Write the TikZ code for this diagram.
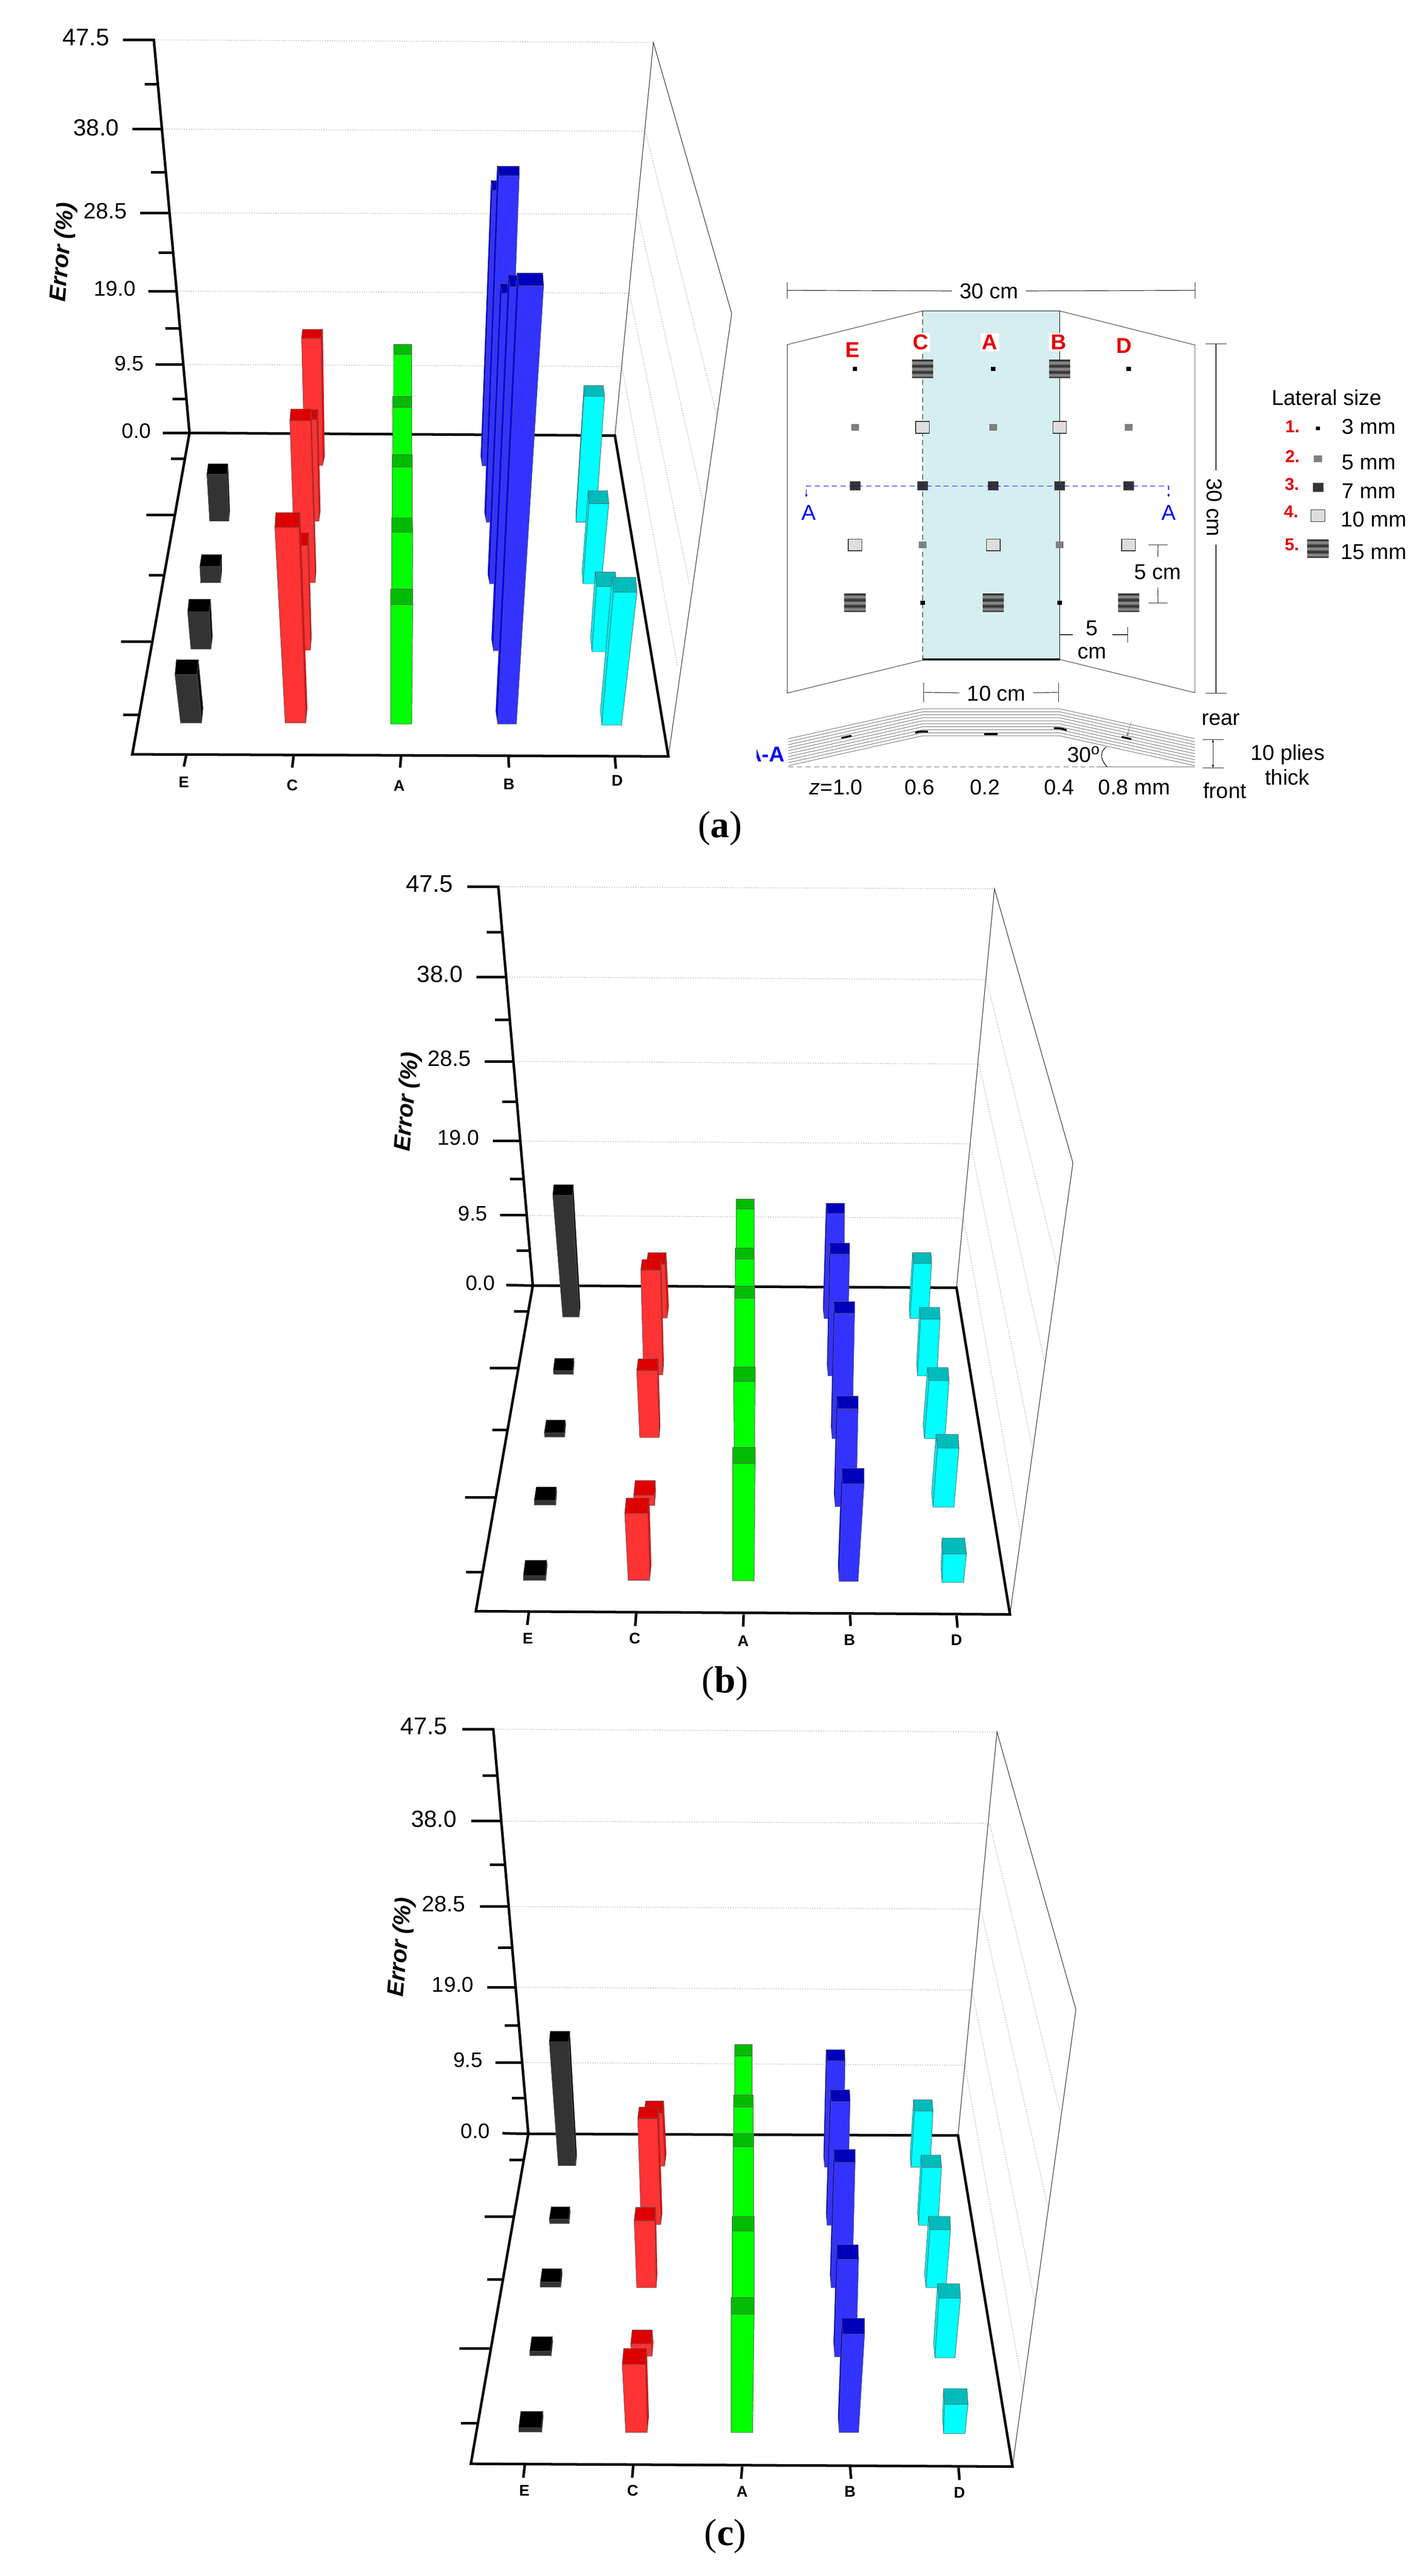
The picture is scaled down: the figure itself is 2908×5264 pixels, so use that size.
\documentclass[tikz,border=0pt]{standalone}
\usepackage{fontspec}
\usetikzlibrary{arrows.meta}
\setmainfont{Liberation Sans}
\newfontfamily\capfont{Liberation Serif}

\definecolor{redF}{HTML}{FF3333}
\definecolor{redT}{HTML}{DD0000}
\definecolor{redS}{HTML}{FF0000}
\definecolor{greenF}{HTML}{00FF00}
\definecolor{greenT}{HTML}{00BB00}
\definecolor{greenS}{HTML}{00DD00}
\definecolor{blueF}{HTML}{3333FF}
\definecolor{blueT}{HTML}{0000BB}
\definecolor{blueS}{HTML}{0000FF}
\definecolor{cyanF}{HTML}{00FFFF}
\definecolor{cyanT}{HTML}{00BBBB}
\definecolor{cyanS}{HTML}{00E8E8}
\definecolor{blackF}{HTML}{333333}
\definecolor{blackT}{HTML}{000000}
\definecolor{blackS}{HTML}{111111}
\definecolor{midpanel}{HTML}{D5EEF0}

\pgfdeclareverticalshading{plystripes}{100bp}{color(0bp)=(black!85); color(25bp)=(black!85); color(33bp)=(gray!80); color(41bp)=(black!85); color(50bp)=(gray!80); color(58bp)=(black!85); color(67bp)=(gray!80); color(75bp)=(black!85); color(100bp)=(black!85)}

\tikzset{
  axisline/.style={line width=1.5pt,black},
  thinbox/.style={line width=.35pt,black!80},
  wingline/.style={line width=.35pt,black!70},
  gridline/.style={line width=.4pt,densely dotted,black!40},
  barface/.style={draw=black!65,line width=.2pt},
  ticklab/.style={inner sep=0pt},
  axislab/.style={inner sep=0pt,font=\fontsize{9}{9}\selectfont\bfseries},
  errlab/.style={inner sep=0pt,rotate=85,font=\fontsize{13.5}{14}\selectfont\bfseries\itshape},
  caplab/.style={inner sep=0pt,font=\fontsize{22}{24}\selectfont\capfont},
  txt/.style={inner sep=0pt,font=\fontsize{12.5}{13.5}\selectfont},
  dimlab/.style={txt,inner sep=.15cm},
  dimline/.style={line width=.35pt,black!85},
  tinytip/.style={{Latex[length=1.6pt,width=1.6pt]}-{Latex[length=1.6pt,width=1.6pt]}},
  rowlab/.style={inner sep=1pt,fill=white,text=red!90!black,font=\fontsize{12.5}{13}\selectfont\bfseries},
  numlab/.style={inner sep=0pt,text=red!90!black,font=\fontsize{10}{11}\selectfont\bfseries},
  m3/.style={inner sep=0pt,minimum width=.09cm,minimum height=.08cm,fill=black},
  m5/.style={inner sep=0pt,minimum width=.16cm,minimum height=.14cm,fill=black!50},
  m7/.style={inner sep=0pt,minimum width=.21cm,minimum height=.18cm,fill=black!80,draw=black!60,line width=.2pt},
  m10/.style={inner sep=0pt,minimum width=.28cm,minimum height=.24cm,fill=black!13,draw=black!80,line width=.4pt},
  m15/.style={inner sep=0pt,minimum width=.43cm,minimum height=.37cm,shading=plystripes}
}

\newcommand{\barset}[2]{%
  \foreach \xa/\xb/\ya/\xc/\xd/\yb/\xe/\xf/\yc in {#2} {
    \pgfmathsetmacro{\xl}{\xa+\xe-\xc}
    \pgfmathsetmacro{\xr}{\xb+\xf-\xd}
    \pgfmathsetmacro{\yl}{\ya+\yc-\yb}
    \filldraw[barface,fill=#1S] (\xa,\ya) -- (\xc,\yb) -- (\xe,\yc) -- (\xl,\yl) -- cycle;
    \filldraw[barface,fill=#1S] (\xb,\ya) -- (\xd,\yb) -- (\xf,\yc) -- (\xr,\yl) -- cycle;
    \filldraw[barface,fill=#1F] (\xa,\ya) -- (\xb,\ya) -- (\xd,\yb) -- (\xc,\yb) -- cycle;
    \filldraw[barface,fill=#1T] (\xc,\yb) -- (\xd,\yb) -- (\xf,\yc) -- (\xe,\yc) -- cycle;
  }}

\begin{document}
\begin{tikzpicture}[x=.01cm,y=-.01cm]
  \useasboundingbox (0,0) rectangle (2908,5264);

  % plot a
  \begin{scope}[x=.009588cm,y=-.010846cm]
    \draw[gridline] (328,75) -- (1393,80);
    \foreach \a/\b/\c/\d/\e/\f in {346/243/1376/247/1527/778,362/401/1360/403/1500/950,376/548/1342/552/1470/1100,390/686/1326/690/1445/1255}
      \draw[gridline] (\a,\b) -- (\c,\d) -- (\e,\f);
    \draw[thinbox] (1311,820) -- (1393,80) -- (1560,590) -- (1425,1424);
    \draw[axisline] (262,75) -- (328,75) -- (404,815) -- (282,1420) -- (1425,1424) -- (1311,820) -- (404,815) -- (347,815);
    \foreach \a/\b/\c/\d in {282/243/346/243,299/401/362/401,316/548/376/548,332/686/390/686,308/159/336/159,322/324/354/324,338/476/368/476,352/618/382/618,368/751/395/751,364/864/393/864,312/969/372/969,317/1083/347/1083,258/1208/322/1208,262/1346/294/1346,397/1422/392/1443,626/1422/623/1445,855/1424/853/1445,1084/1424/1085/1445,1311/1426/1313/1447}
      \draw[axisline] (\a,\b) -- (\c,\d);
    \foreach \t/\x/\y/\s [count=\i] in {47.5/183/70/14,38.0/205/240/13.6,28.5/225/397/12.9,19.0/245/543/12.4,9.5/275/684/12.2,0.0/291/811/12.2}
      \node[ticklab,font=\fontsize{\s}{\s}\selectfont] (atick\i) at (\x,\y) {\t};
    \foreach \t/\x/\y in {E/392/1472,C/623/1478,A/851/1479,B/1085/1476,D/1316/1470}
      \node[axislab] (axlab\t) at (\x,\y) {\t};
    \node[errlab] (aerr) at (135,475) {Error (\%)};
    \barset{black}{447/488/981/441/484/893/444/486/873,428/470/1097/426/470/1066/430/473/1044,407/450/1222/400/446/1152/403/449/1128,385/430/1361/373/420/1270/376/423/1242}
    \barset{red}{650/688/876/643/684/637/645/688/620,640/680/981/635/675/790/637/678/771,630/672/1097/618/662/792/620/664/770,620/662/1224/610/656/1027/612/658/1003,608/652/1361/586/637/993/588/640/965}
    \barset{green}{839/877/876/839/878/667/839/878/648,838/878/981/837/878/767/837/878/746,836/879/1097/836/879/879/836/879/856,835/879/1224/835/880/1002/835/879/975,833/878/1363/833/880/1138/833/880/1109}
    \barset{blue}{1028/1070/877/1050/1090/358/1047/1090/340,1037/1080/983/1064/1107/331/1060/1107/313,1044/1085/1099/1070/1112/552/1066/1112/534,1052/1095/1225/1087/1130/540/1083/1130/518,1061/1101/1363/1106/1159/538/1102/1157/514}
    \barset{cyan}{1228/1270/983/1245/1289/746/1245/1286/726,1243/1282/1099/1256/1298/948/1254/1295/924,1262/1300/1227/1272/1314/1104/1269/1312/1077,1283/1325/1365/1308/1358/1115/1305/1355/1087}
  \end{scope}
  \node[caplab] (capa) at (1472,1693) {(\textbf{a})};

  % layout of the panel
  \begin{scope}[shift={(1500,500)},x=.008977cm,y=-.007651cm]
    \fill[midpanel] (430,177) rectangle (742,1108);
    \draw[wingline] (430,177) -- (122,267) -- (122,1198) -- (430,1110);
    \draw[wingline] (742,177) -- (1050,268) -- (1050,1197) -- (742,1108);
    \draw[line width=.5pt] (430,177) -- (742,177);
    \draw[line width=1pt] (430,1108) -- (742,1108);
    \draw[line width=.5pt,densely dashed] (430,177) -- (430,1108);
    \draw[line width=.5pt] (742,177) -- (742,1108);

    \foreach \x/\y/\t in {271/281/E,426/261/C,583/261/A,740/261/B,889/270/D}
      \node[rowlab] (col\t) at (\x,\y) {\t};

    \foreach \y [count=\r] in {332,488,644,802,957}
      \foreach \x [count=\c] in {276,430,591,742,899}
        \coordinate (pos\r\c) at (\x,\y);
    \foreach \n/\m in {11/m3,12/m15,13/m3,14/m15,15/m3,21/m5,22/m10,23/m5,24/m10,25/m5,31/m7,32/m7,33/m7,34/m7,35/m7,41/m10,42/m5,43/m10,44/m5,45/m10,51/m15,52/m3,53/m15,54/m3,55/m15}
      \node[\m] (mark\n) at (pos\n) {};

    % section line
    \coordinate (secL) at (165,645);
    \coordinate (secR) at (990,645);
    \coordinate (secLe) at (165,675);
    \coordinate (secRe) at (990,675);
    \draw[blue,line width=.4pt,densely dashed,tinytip] (secLe) -- (secL) -- (secR) -- (secRe);
    \node[txt,text=blue] (secLlab) at (171,716) {A};
    \node[txt,text=blue] (secRlab) at (990,716) {A};

    % dimensions
    \node[dimlab] (w30) at (581,124) {30 cm};
    \coordinate (w30L) at (122,122);
    \coordinate (w30R) at (1050,122);
    \draw[dimline] (w30L) -- (w30) -- (w30R);
    \draw[dimline] (122,100) -- (w30L) -- (122,145);
    \draw[dimline] (1050,100) -- (w30R) -- (1050,145);
    \node[dimlab,rotate=-90] (h30) at (1094,702) {30 cm};
    \coordinate (h30T) at (1098,265);
    \coordinate (h30B) at (1098,1198);
    \draw[dimline] (h30T) -- (h30T |- h30.west);
    \draw[dimline] (h30B) -- (h30B |- h30.east);
    \draw[dimline] (1075,265) -- (1122,265);
    \draw[dimline] (1075,1198) -- (1122,1198);
    \node[dimlab] (v5) at (965,875) {5 cm};
    \coordinate (v5T) at (966,802);
    \coordinate (v5B) at (966,957);
    \draw[dimline] (v5T) -- (v5) -- (v5B);
    \draw[dimline] (944,802) -- (988,802);
    \draw[dimline] (944,957) -- (988,957);
    \node[txt,align=center] (h5) at (816,1056) {5\\cm};
    \coordinate (h5L) at (742,1042);
    \coordinate (h5R) at (897,1042);
    \draw[dimline] (h5L) -- (772,1042);
    \draw[dimline] (862,1042) -- (h5R);
    \draw[dimline] (897,1022) -- (897,1063);
    \node[dimlab] (w10) at (598,1199) {10 cm};
    \coordinate (w10L) at (432,1196);
    \coordinate (w10R) at (740,1196);
    \draw[dimline] (w10L) -- (w10) -- (w10R);
    \draw[dimline] (432,1170) -- (432,1222);
    \draw[dimline] (740,1170) -- (740,1222);

    % plies
    \foreach \d in {0,8,...,72}
      \draw[line width=.3pt,black!55] (124,1320+\d) -- (430,1240+\d) -- (742,1240+\d) -- (1050,1320+\d);
    \draw[line width=.4pt,black!60,densely dashed] (124,1395) -- (826,1395);
    \draw[line width=.4pt,black!60] (826,1395) -- (1050,1395);
    \draw[line width=1.1pt] (245,1318) -- (268,1312);
    \draw[line width=1.1pt] (413,1304) .. controls (425,1300) and (432,1300) .. (442,1301);
    \draw[line width=1.1pt] (570,1308) -- (601,1308);
    \draw[line width=1.1pt] (729,1292) .. controls (740,1291) and (748,1293) .. (758,1297);
    \draw[line width=1.1pt] (883,1315) -- (905,1321);
    \draw[line width=.25pt,black!50,-{Latex[length=2pt,width=1.6pt]}] (905,1275) -- (895,1315);
    \draw[line width=.35pt] (848,1342) .. controls (830,1358) and (838,1380) .. (850,1395);
    \begin{scope}
      \clip (52,1320) rectangle (130,1400);
      \node[anchor=east,inner sep=0pt,text=blue,font=\fontsize{12.5}{13}\selectfont\bfseries] (secname) at (117,1362) {A-A};
    \end{scope}
    \node[txt] (angle) at (797,1362) {30\textsuperscript{o}};
    \node[txt] (rearlab) at (1109,1268) {rear};
    \node[txt] (frontlab) at (1118,1458) {front};
    \node[txt] (plylab) at (1261,1363) {10 plies};
    \node[txt] (thicklab) at (1260,1423) {thick};
    \coordinate (plyT) at (1091,1322);
    \coordinate (plyB) at (1091,1398);
    \draw[dimline,tinytip] (plyT) -- (plyB);
    \draw[dimline] (1067,1322) -- (1115,1322);
    \draw[dimline] (1067,1398) -- (1115,1398);
    \node[txt] (zlab1) at (233,1449) {\textit{z}=1.0};
    \foreach \x/\t [count=\i from 2] in {423/0.6,572/0.2,741/0.4,912/0.8 mm}
      \node[txt] (zlab\i) at (\x,1449) {\t};

    % legend
    \node[txt] (legtitle) at (1350,409) {Lateral size};
    \foreach \i/\yn/\ym/\yt/\xt/\xn/\m/\t in {1/486/491/486/1446/1272/m3/3 mm,2/566/572/581/1446/1272/m5/5 mm,3/640/648/658/1446/1271/m7/7 mm,4/713/724/734/1457/1269/m10/10 mm,5/802/812/821/1457/1271/m15/15 mm} {
      \node[numlab] (legnum\i) at (\xn,\yn) {\i.};
      \node[\m] (legmark\i) at (1330,\ym) {};
      \node[txt] (legtxt\i) at (\xt,\yt) {\t};
    }
  \end{scope}

  % plot b
  \begin{scope}[shift={(700,1750)},x=.010204cm,y=-.010846cm]
    \draw[gridline] (312,57) -- (1305,61);
    \foreach \a/\b/\c/\d/\e/\f in {330/227/1289/232/1432/777,344/386/1274/391/1405/950,358/536/1257/541/1380/1110,370/676/1243/681/1357/1275}
      \draw[gridline] (\a,\b) -- (\c,\d) -- (\e,\f);
    \draw[thinbox] (1229,812) -- (1305,61) -- (1462,577) -- (1336,1427);
    \draw[axisline] (250,57) -- (312,57) -- (381,808) -- (267,1421) -- (1336,1427) -- (1229,812) -- (381,808) -- (328,807);
    \foreach \a/\b/\c/\d in {268/227/330/227,285/386/344/386,301/536/358/536,315/675/370/675,289/143/320/143,305/308/336/308,320/462/350/462,335/607/364/607,348/742/376/742,343/857/373/857,295/963/353/963,300/1080/331/1080,245/1207/308/1207,247/1347/281/1347,373/1423/370/1447,588/1425/586/1449,803/1427/802/1450,1016/1428/1017/1449,1229/1429/1231/1452}
      \draw[axisline] (\a,\b) -- (\c,\d);
    \foreach \t/\x/\y/\s [count=\i] in {47.5/174/52/14,38.0/195/222/13.6,28.5/214/381/12.9,19.0/232/530/12.4,9.5/261/672/12.2,0.0/276/803/12.2}
      \node[ticklab,font=\fontsize{\s}{\s}\selectfont] (btick\i) at (\x,\y) {\t};
    \foreach \t/\x/\y in {E/371/1472,C/585/1472,A/802/1477,B/1015/1475,D/1229/1475}
      \node[axislab] (bxlab\t) at (\x,\y) {\t};
    \node[errlab] (berr) at (131,462) {Error (\%)};
    \barset{black}{441/474/867/421/460/638/423/462/618,423/462/975/422/461/968/425/463/945,405/445/1093/404/444/1085/408/446/1061,384/427/1221/384/426/1212/388/428/1187,362/407/1363/362/406/1354/366/409/1325}
    \barset{red}{612/650/869/608/645/768/612/648/746,603/641/976/597/636/779/600/638/759,595/634/1094/589/630/968/592/632/946,585/625/1222/583/624/1203/586/626/1175,572/615/1363/565/611/1237/568/614/1208}
    \barset{green}{788/824/750/788/824/663/788/824/645,787/824/850/786/824/758/786/824/737,785/825/970/785/825/831/785/825/809,784/825/1120/783/826/988/783/826/961,781/824/1364/781/826/1143/781/826/1113}
    \barset{blue}{964/1003/870/970/1005/672/968/1005/653,972/1010/978/977/1015/749/975/1015/728,980/1020/1096/985/1025/860/983/1025/838,986/1028/1224/991/1032/1040/989/1032/1016,994/1032/1365/1001/1044/1181/999/1044/1152}
    \barset{cyan}{1136/1173/870/1143/1179/766/1141/1178/746,1151/1190/978/1157/1196/871/1155/1195/849,1165/1206/1096/1174/1214/987/1171/1212/962,1182/1224/1225/1191/1234/1114/1188/1232/1088,1200/1243/1367/1202/1249/1313/1200/1245/1283}
  \end{scope}
  \node[caplab] (capb) at (1482,3440) {(\textbf{b})};

  % plot c
  \begin{scope}[shift={(700,3480)},x=.010204cm,y=-.011376cm]
    \draw[gridline] (302,47) -- (1310,52);
    \foreach \a/\b/\c/\d/\e/\f in {318/212/1295/216/1437/735,333/365/1278/370/1412/905,347/510/1260/515/1386/1075,361/645/1246/650/1362/1230}
      \draw[gridline] (\a,\b) -- (\c,\d) -- (\e,\f);
    \draw[thinbox] (1232,776) -- (1310,52) -- (1468,550) -- (1341,1370);
    \draw[axisline] (240,47) -- (302,47) -- (372,773) -- (257,1365) -- (1341,1370) -- (1232,776) -- (372,773) -- (320,772);
    \foreach \a/\b/\c/\d in {258/212/318/212,275/365/333/365,290/510/347/510,306/645/361/645,280/130/310/130,295/290/325/290,311/439/340/439,325/579/353/579,339/709/366/709,334/820/362/820,285/922/343/922,290/1034/320/1034,234/1158/297/1158,237/1292/270/1292,365/1367/362/1390,582/1368/580/1390,800/1370/798/1392,1016/1370/1018/1392,1233/1372/1235/1394}
      \draw[axisline] (\a,\b) -- (\c,\d);
    \foreach \t/\x/\y/\s [count=\i] in {47.5/163/42/14,38.0/183/208/13.6,28.5/203/361/12.9,19.0/221/505/12.4,9.5/251/641/12.2,0.0/266/768/12.2}
      \node[ticklab,font=\fontsize{\s}{\s}\selectfont] (ctick\i) at (\x,\y) {\t};
    \foreach \t/\x/\y in {E/364/1413,C/581/1413,A/800/1415,B/1016/1415,D/1235/1417}
      \node[axislab] (cxlab\t) at (\x,\y) {\t};
    \node[errlab] (cerr) at (118,438) {Error (\%)};
    \barset{black}{432/467/830/414/453/608/416/455/589,415/454/934/414/453/926/418/455/904,396/437/1048/396/436/1039/400/439/1015,375/418/1171/375/417/1163/379/420/1137,353/399/1308/353/398/1300/357/401/1271}
    \barset{red}{608/645/831/604/640/736/607/643/714,598/637/936/591/630/746/594/633/725,589/628/1049/584/625/929/587/627/905,579/620/1172/577/618/1150/580/620/1125,567/610/1309/560/606/1187/563/609/1158}
    \barset{green}{785/820/720/785/820/633/785/820/613,783/822/800/783/822/725/783/822/703,782/823/930/782/823/796/782/823/773,780/824/1075/780/824/947/780/824/921,778/821/1309/778/824/1096/778/824/1067}
    \barset{blue}{965/1002/833/970/1006/642/968/1005/622,970/1010/937/978/1016/715/976/1015/694,978/1020/1049/985/1026/824/983/1026/801,985/1028/1173/991/1033/998/989/1032/972,994/1033/1309/1001/1045/1132/999/1045/1104}
    \barset{cyan}{1138/1176/833/1145/1182/732/1143/1180/712,1153/1192/937/1160/1199/833/1158/1197/811,1168/1208/1049/1176/1217/945/1173/1216/921,1186/1226/1175/1194/1237/1068/1191/1235/1042,1203/1246/1311/1205/1252/1258/1203/1250/1230}
  \end{scope}
  \node[caplab] (capc) at (1483,5183) {(\textbf{c})};
\end{tikzpicture}
\end{document}
